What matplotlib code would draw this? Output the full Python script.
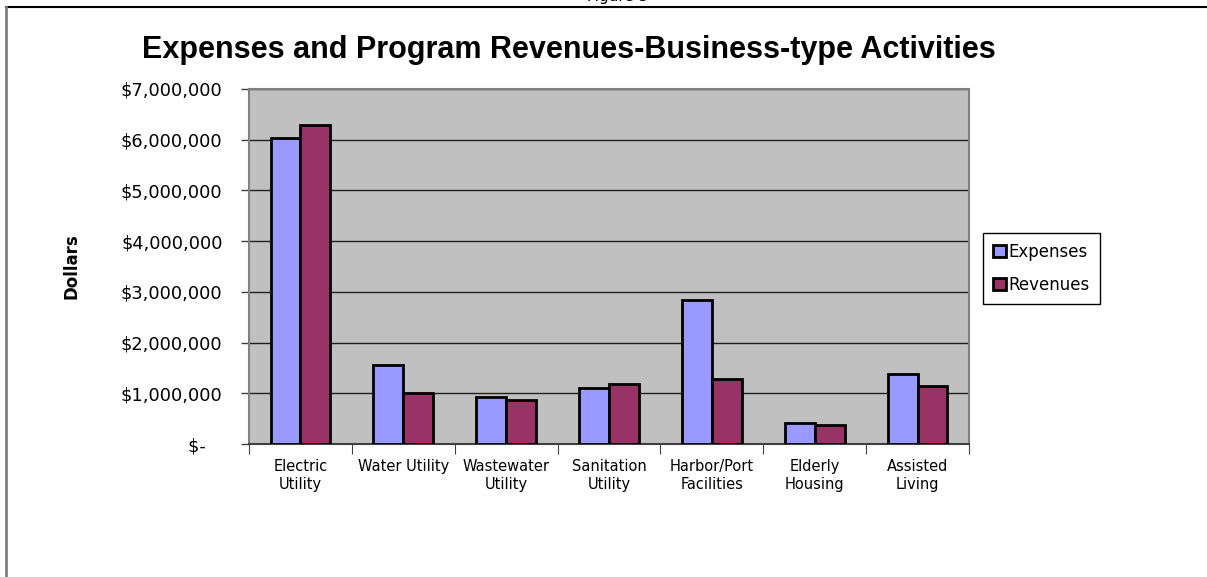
#Expenses vs program revenues for the business-type activities, grouped bars.

import numpy as np
from matplotlib import pyplot as plt
from matplotlib.lines import Line2D
from matplotlib.ticker import FuncFormatter

categories = ["Electric\nUtility", "Water Utility", "Wastewater\nUtility", "Sanitation\nUtility",
              "Harbor/Port\nFacilities", "Elderly\nHousing", "Assisted\nLiving"]
expenses = [6030000, 1560000, 930000, 1100000, 2830000, 410000, 1390000]
revenues = [6290000, 1010000, 860000, 1180000, 1290000, 380000, 1140000]
y_ticks = [0, 1000000, 2000000, 3000000, 4000000, 5000000, 6000000, 7000000]

def dollars(v, pos):
    if v == 0:
        return "$-   "
    return "${:,.0f}".format(v)

if __name__ == '__main__':
    fig = plt.figure(figsize=(12.07, 5.77), dpi=100)
    ax = fig.add_axes([0.2063, 0.2305, 0.5965, 0.6153])
    ax.set_facecolor('#C0C0C0')

    x = np.arange(len(categories))
    w = 0.29
    ax.bar(x - w/2, expenses, w, color='#9999FF', edgecolor='black', linewidth=2, label="Expenses", zorder=3)
    ax.bar(x + w/2, revenues, w, color='#993366', edgecolor='black', linewidth=2, label="Revenues", zorder=3)

    ax.set_xlim(-0.5, len(categories) - 0.5)
    ax.set_ylim(0, 7000000)
    ax.set_yticks(y_ticks)
    ax.yaxis.set_major_formatter(FuncFormatter(dollars))
    ax.tick_params(axis='y', direction='out', length=6, width=1, color='#404040', pad=13, labelsize=12.8)
    ax.yaxis.grid(True, color='#202020', linewidth=1, zorder=1)

    # category names sit on minor ticks, boundaries get the visible ticks
    ax.set_xticks(np.arange(len(categories) + 1) - 0.5)
    ax.set_xticklabels([])
    ax.set_xticks(x, minor=True)
    ax.set_xticklabels(categories, minor=True, fontsize=10.5)
    ax.tick_params(axis='x', which='major', direction='out', length=7, color='#404040')
    ax.tick_params(axis='x', which='minor', length=0, pad=11)

    for s in ax.spines.values():
        s.set_color('#808080')
        s.set_linewidth(1.5)
    ax.spines['bottom'].set_color('#404040')

    fig.text(569/1207, 1 - 58/577, "Expenses and Program Revenues-Business-type Activities",
             ha='center', va='baseline', fontsize=22, fontweight='bold', family='Liberation Sans')
    fig.text(71/1207, 0.538, "Dollars", rotation=90, ha='center', va='center',
             fontsize=12, fontweight='bold')
    fig.text(618/1207, 1 - 1.5/577, "Figure 3", ha='center', va='baseline', fontsize=11)

    leg = fig.legend(loc='upper left', bbox_to_anchor=(983/1207, 1 - 233/577), fontsize=12,
                     fancybox=False, edgecolor='black', framealpha=1, borderaxespad=0,
                     handlelength=0.75, handleheight=0.75, handletextpad=0.2, labelspacing=0.9,
                     borderpad=0.6)
    leg.get_frame().set_linewidth(1)

    # page frame lines
    fig.add_artist(Line2D([6/1207, 1], [1 - 7/577, 1 - 7/577], color='black', linewidth=1.5))
    fig.add_artist(Line2D([6/1207, 6/1207], [0, 1 - 7/577], color='#808080', linewidth=2))

    plt.savefig("out.png", dpi=100)
